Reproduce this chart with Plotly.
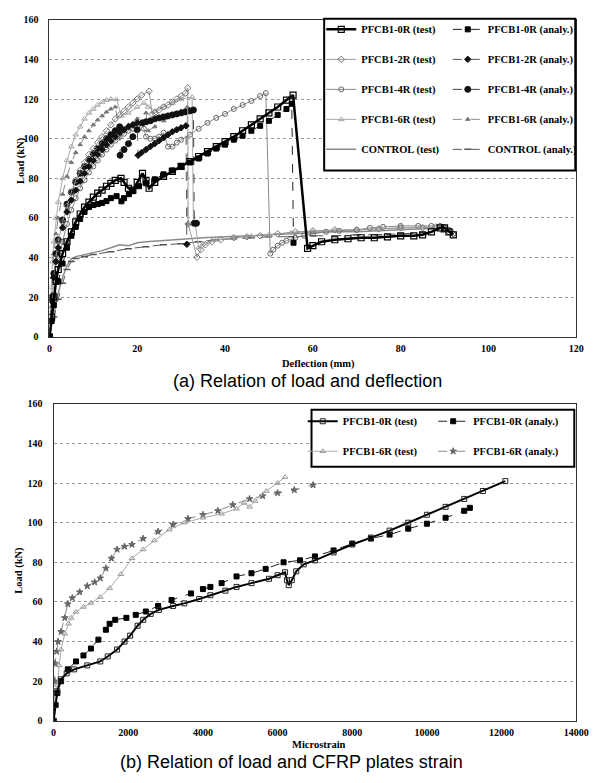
import plotly.graph_objects as go

W, H = 598, 783

# ---------------- (a) load - deflection data ----------------
d_0R_test = [0,0.5,1,1.5,2,3,4,5,6,7,8,9,10,11,12,13,14,15,16.3,17,18,19,20,21.2,22,22.7,24,26,28,30,32,34,36,38,40,42,44,46,48,50,52,54,55.5,58.8,60,62,65,68,71,74,77,80,83,85,87,89,90,91,92]
p_0R_test = [0,10,20,28,34,42,48,53,58,62,65.5,68,70.5,72.5,74,76,77.5,79,80,78,75,74,78,82.5,79,75,78,81,83.5,86,88.5,91,93.5,96,98.5,101,104,107,110,113,116,119.5,122,44.7,46,48,49,49.5,50,50,50.5,51,51,51.5,53,55,55,53,51.5]

d_0R_anal = [0,0.5,1,2,3,4,5,6,7,8,9,10,11,12,13,14,15.3,16.4,17,18.1,19,20.4,22,24,26,28,30,32,34,36,38,40,42,44,46,48,50,52,54,55.2,55.6]
p_0R_anal = [0,8,16,28,37,45,51,55.5,59.5,63,65.5,66.5,67,67.6,68.5,70,71,68.4,70,72,73.5,76,77.5,79.5,82,84,86,88,90,92.5,95,97,99.5,101.5,104,106.5,109,112,115,117.6,47.5]

d_2R_test = [0,0.3,0.6,1,1.5,2,3,4,5,6,7,8,9,10,11,12,13,14,15,16,17,18,19,20,21,22.7,23.4,24,25,26,27,28,29,30,31,31.5,31.6,33.6,34.5,35.5,37,39,42,45,48,52,56,60,65,70,75,80,85,88,90,91,92]
p_2R_test = [0,10,20,30,40,48,58,66,73,79,84,88,92,95,98,101,104,107,110,112,114,116,118,120,122,124,112.3,113,114.5,116,117,118.5,120,121.5,123,125.6,57,40.2,44,46.5,48,49,50,50.5,51,52,53,53.5,54,54,54.5,55,55,55.5,55,53,52]

d_2R_anal = [0,0.5,1,1.5,2,3,4,5,6,7,8,9,10,11,12,13,14,15,16,17,18,19,20,20.2,21,22,23,24,25,26,27,28,29,30,31.1,31.3]
p_2R_anal = [0,18,30,38,45,55,63,69,74,78.5,82.5,86,89,92,94.5,97,99,101,103,104.5,106,107,108,91.6,93,94.5,96,97.5,99,100.5,102,103.5,104.5,105.5,106.5,46.7]

d_4R_test = [0,0.5,1,1.5,2,3,4,5,6,7,8,9,10,11,12,13,14,15,16,17,18,19,20,21,21.5,22,23,24,25,26,27,28,29,30,32,34,36,38,40,42,44,46,48,49.3,50.3,51,52,53,54,56,58,60,63,66,70,73,76,80,84,87,89,90,91,92]
p_4R_test = [0,8,18,28,36,48,57,64,70,75,79,83,86,89,92,94.5,97,99,101,102.5,104,105,106.5,108,105,101,100,100,101,103,96,96,98,99.5,102,105,108,110.5,112.5,115,117,119,121.5,123,42,44,46,47.5,48.5,50,51,52,53,53.5,54,55,55.5,56,56,56,56,55,54,52]

d_4R_anal = [0,0.5,1,1.5,2,3,4,5,6,7,8,9,10,11,12,13,14,15,16,16.1,17,18,19,20,21.2,22,23,24,25,26,27,28,29,30,31,32,32.8,33,33.5]
p_4R_anal = [0,20,32,42,49,59,67,73,78,82.5,86,89.5,92.5,95,97.5,100,102,104,106,91.6,94.5,97.5,101,104.5,108,108.5,109,110,110.5,111,111.5,112,112.5,113,113.5,114,114.5,57.3,57.3]

d_6R_test = [0,0.2,0.4,0.7,1,1.5,2,3,4,5,6,7,8,9,10,11,12,13,14,15.3,16.4,18,20,21.5,22.5,24,26,28,30,32.5,32.8,33.2,34,35,38,42,46,50,55,60,65,70,75,80,85,90]
p_6R_test = [0,12,25,38,48,60,68,80,89,96,102,106,110,113,115,117,118.5,119.5,120,119.8,111.5,113,116,118,116,114,116,118,120,121,57,57,45,47,49,50,51,51.5,52.5,53,53.5,54,54.5,55,55.5,55]

d_6R_anal = [0,0.3,0.6,1,1.5,2,3,4,5,6,7,8,9,10,11,12,13,14,15,16,18,20,22,22.5,24,26,28,30,31.4,31.5,32.8]
p_6R_anal = [0,15,30,42,52,60,72,81,88,93,97,101,104,107,109.5,111.5,113.5,115,116,104,107,110,113,104,106,109,111.5,114,116,57,57]

d_ctrl_test = [0,0.5,1,2,3,4,5,6,8,10,12,14,16,18,20,22,25,28,31,35,40,45,50,55,60,65,70,75,80,85,88,90,92]
p_ctrl_test = [0,6,12,22,30,36,39.5,40.5,41.5,42.5,43.5,45,46.5,46,47.5,48,48.5,49,49.5,50,50.5,51,51.5,52,52.5,53,53,53.5,54,54.5,55,55,54]

d_ctrl_anal = [0,1,2,3,4,5,6,8,10,14,18,22,26,30,34,38,42,46,50,55,60,65,70,75,80,85,90]
p_ctrl_anal = [0,10,19,27,34,38,39.5,40.5,41.5,43,44.5,45.5,46.5,47,48,49,49.5,50,50.5,50.5,51,51,51.5,51.5,52,52.5,53]

# ---------------- (b) load - CFRP strain data ----------------
s_0R_test = [0,50,100,200,350,550,900,1250,1450,1700,1900,2050,2250,2400,2600,2820,3200,3500,3900,4200,4600,4900,5300,5770,6000,6200,6250,6300,6380,6500,6700,7000,7500,8000,8500,9000,9500,10000,10500,11000,11500,12100]
q_0R_test = [0,8,15,21,24,26,28,30,32.5,36,40,43,48,51,54,56,58,59.3,61.5,63.4,65.7,67.6,69.5,71.7,73.5,75,71,68.5,71,75.5,79,81,85,89,92.5,96,100,104,108,112,116,121]

s_0R_anal = [0,50,100,200,380,600,800,1000,1200,1400,1500,1650,1950,2200,2470,2800,3160,3680,4000,4200,4500,4900,5300,5680,6160,6600,7000,7500,8000,8500,9000,9500,10000,10500,11000,11150]
q_0R_anal = [0,8,14,20,26,30,33,36.5,41,46,49,51,52,53.5,55.2,58,61,64.3,66.5,67.6,69.5,72.9,74.5,76.7,80,81,83,86,89.5,92,94,97,99.5,102.5,106,107.5]

s_6R_test = [0,50,100,150,200,300,400,470,600,800,1000,1250,1500,1800,2100,2400,2700,3100,3500,4000,4500,4900,5100,5250,5400,5700,6000,6200]
q_6R_test = [0,8,18,28,36,44,49,52,55,57.5,59.5,62.5,67,74,82,86.5,91,96.5,100,102.5,104.5,107,110,108,111,116,120,123]

s_6R_anal = [0,30,40,80,120,200,300,380,500,700,900,1100,1250,1400,1550,1700,1900,2100,2400,2800,3200,3600,4000,4400,4800,5250,5600,6000,6450,6950]
q_6R_anal = [0,20,29,35,40,45,52,59,62,65,68,70,72,77,82,86.5,88,89,92,95.5,99,102,104,106,109,112,113.5,115,116.5,119]

pairs = [(d_0R_test,p_0R_test),(d_0R_anal,p_0R_anal),(d_2R_test,p_2R_test),(d_2R_anal,p_2R_anal),
         (d_4R_test,p_4R_test),(d_4R_anal,p_4R_anal),(d_6R_test,p_6R_test),(d_6R_anal,p_6R_anal),
         (d_ctrl_test,p_ctrl_test),(d_ctrl_anal,p_ctrl_anal),(s_0R_test,q_0R_test),(s_0R_anal,q_0R_anal),
         (s_6R_test,q_6R_test),(s_6R_anal,q_6R_anal)]
for i,(a,b) in enumerate(pairs):
    assert len(a) == len(b), (i, len(a), len(b))

SERIF = "Liberation Serif"
SANS = "Liberation Sans"

fig = go.Figure()

def add(x, y, name, xa, ya, legend, color, symbol, size, lw, dash, mcolor=None, mlw=1, mode="lines+markers", rank=0):
    mc = mcolor or color
    fig.add_trace(go.Scatter(
        x=x, y=y, name=name, xaxis=xa, yaxis=ya, legend=legend, legendgroup=name, legendrank=rank,
        mode=mode, line=dict(color=color, width=lw, dash=dash),
        marker=dict(symbol=symbol, size=size, color=mc, line=dict(color=mc, width=mlw)),
        showlegend=True))

# top chart: test column (legend), analysis column (legend2); legendrank fixes row order
add(d_ctrl_test, p_ctrl_test, "CONTROL (test)", "x", "y", "legend", "#8a8a8a", "circle", 2, 1.5, "solid", mode="lines", rank=5)
add(d_ctrl_anal, p_ctrl_anal, "CONTROL (analy.)", "x", "y", "legend2", "#555555", "line-ew-open", 5, 1, "dash", mlw=1.5, rank=5)
add(d_6R_test, p_6R_test, "PFCB1-6R (test)", "x", "y", "legend", "#a8a8a8", "triangle-up-open", 5, 1, "solid", rank=4)
add(d_6R_anal, p_6R_anal, "PFCB1-6R (analy.)", "x", "y", "legend2", "#8a8a8a", "triangle-up", 4, 1, "dash", mcolor="#777777", rank=4)
add(d_4R_test, p_4R_test, "PFCB1-4R (test)", "x", "y", "legend", "#8a8a8a", "circle-open", 5, 1, "solid", mcolor="#666666", rank=3)
add(d_4R_anal, p_4R_anal, "PFCB1-4R (analy.)", "x", "y", "legend2", "#444444", "circle", 6, 1, "dash", mcolor="#111111", rank=3)
add(d_2R_test, p_2R_test, "PFCB1-2R (test)", "x", "y", "legend", "#999999", "diamond-open", 5, 1, "solid", mcolor="#777777", rank=2)
add(d_2R_anal, p_2R_anal, "PFCB1-2R (analy.)", "x", "y", "legend2", "#555555", "diamond", 5, 1, "dash", mcolor="#111111", rank=2)
add(d_0R_anal, p_0R_anal, "PFCB1-0R (analy.)", "x", "y", "legend2", "#222222", "square", 5, 1, "dash", mcolor="#000000", rank=1)
add(d_0R_test, p_0R_test, "PFCB1-0R (test)", "x", "y", "legend", "#000000", "square-open", 6, 2.5, "solid", mlw=1.2, rank=1)

# bottom chart
add(s_6R_anal, q_6R_anal, "PFCB1-6R (analy.)", "x2", "y2", "legend4", "#888888", "star", 5, 1, "dash", mcolor="#666666", rank=2)
add(s_6R_test, q_6R_test, "PFCB1-6R (test)", "x2", "y2", "legend3", "#aaaaaa", "triangle-up-open", 5, 1, "solid", mcolor="#999999", rank=2)
add(s_0R_anal, q_0R_anal, "PFCB1-0R (analy.)", "x2", "y2", "legend4", "#222222", "square", 5, 1, "dash", mcolor="#000000", rank=1)
add(s_0R_test, q_0R_test, "PFCB1-0R (test)", "x2", "y2", "legend3", "#000000", "square-open", 5, 2, "solid", mcolor="#222222", rank=1)

tickfont = dict(family=SERIF, size=10, color="black", weight="bold")
axis_common = dict(showline=True, linecolor="#333333", linewidth=1, mirror=True, ticks="",
                   tickfont=tickfont, zeroline=False)

def py(p):
    return 1 - p / H

legend_common = dict(xanchor="left", yanchor="top", bgcolor="rgba(0,0,0,0)", borderwidth=0,
                     font=dict(family=SERIF, size=10.5, color="black", weight="bold"),
                     tracegroupgap=11, itemwidth=30, traceorder="grouped")

def ann(text, x, y, font, angle=0):
    return dict(text=text, x=x/W, y=py(y), xref="paper", yref="paper", textangle=angle,
                xanchor="center", yanchor="middle", showarrow=False, font=font)

lab_font = dict(family=SERIF, size=10.5, color="black", weight="bold")
cap_font = dict(family=SANS, size=18, color="black")

fig.update_layout(
    width=W, height=H, margin=dict(l=0, r=0, t=0, b=0), autosize=False,
    paper_bgcolor="white", plot_bgcolor="white", showlegend=True,
    xaxis=dict(domain=[47.7/W, 589/W], range=[0, 120], tick0=0, dtick=20, showgrid=False,
               anchor="y", ticklabelstandoff=2, **axis_common),
    yaxis=dict(domain=[py(336), py(14)], range=[0, 160], tick0=0, dtick=20, showgrid=True,
               gridcolor="#9a9a9a", griddash="dot", gridwidth=1, anchor="x", ticklabelstandoff=8, **axis_common),
    xaxis2=dict(domain=[52/W, 589/W], range=[0, 14000], tick0=0, dtick=2000, showgrid=False,
                anchor="y2", ticklabelstandoff=2, tickformat="d", **axis_common),
    yaxis2=dict(domain=[py(726), py(404)], range=[0, 160], tick0=0, dtick=20, showgrid=True,
                gridcolor="#9a9a9a", griddash="dot", gridwidth=1, anchor="x2", ticklabelstandoff=8, **axis_common),
    legend=dict(x=327/W, y=py(9), **legend_common),
    legend2=dict(x=457/W, y=py(9), **legend_common),
    legend3=dict(x=308/W, y=py(407), **legend_common),
    legend4=dict(x=442/W, y=py(407), **legend_common),
    shapes=[
        dict(type="rect", xref="paper", yref="paper", x0=330/W, x1=588/W, y0=py(167), y1=py(13),
             line=dict(color="black", width=2), fillcolor="white", layer="above"),
        dict(type="rect", xref="paper", yref="paper", x0=317/W, x1=587/W, y0=py(468), y1=py(410),
             line=dict(color="black", width=2), fillcolor="white", layer="above"),
    ],
    annotations=[
        ann("Load (kN)", 18, 157, lab_font, -90),
        ann("Deflection (mm)", 324, 364, lab_font),
        ann("(a) Relation of load and deflection", 313, 381, cap_font),
        ann("Load (kN)", 17, 573, lab_font, -90),
        ann("Microstrain", 325, 750, lab_font),
        ann("(b) Relation of load and CFRP plates strain", 296, 768, cap_font),
    ],
)

fig.write_html("out.html")
